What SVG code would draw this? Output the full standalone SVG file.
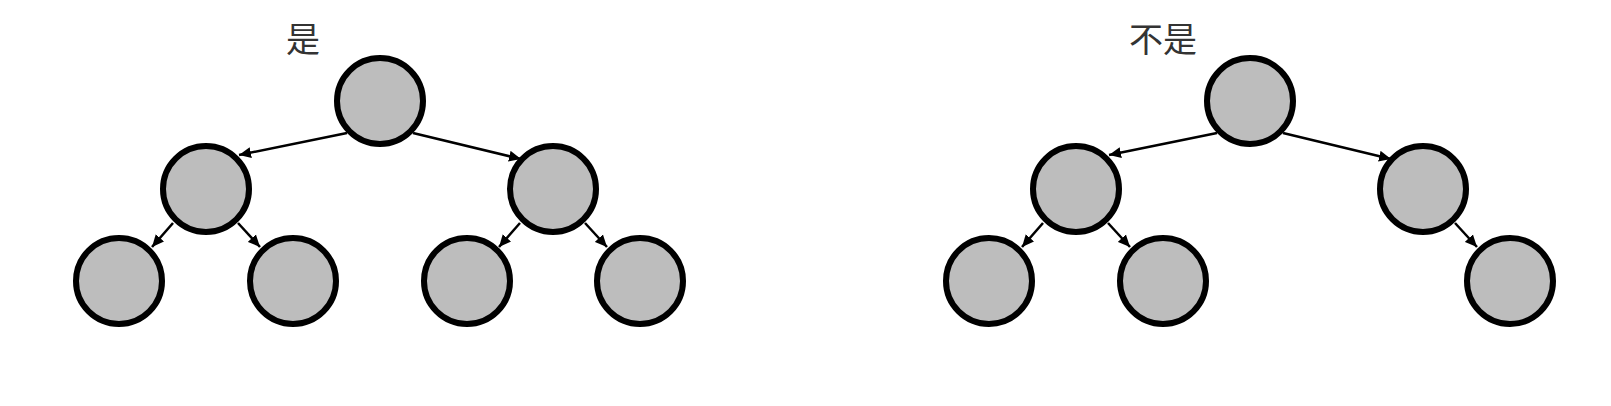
<svg xmlns="http://www.w3.org/2000/svg" width="1611" height="406" viewBox="0 0 1611 406">
<style>
.n{fill:#bdbdbd;stroke:#000;stroke-width:6}
.e{stroke:#000;stroke-width:2.5;fill:none;marker-end:url(#ah)}
.t{font-family:"Noto Sans CJK SC","Noto Sans",sans-serif;font-size:34px;fill:#333;text-anchor:middle}
</style>
<defs>
<marker id="ah" markerUnits="userSpaceOnUse" markerWidth="14" markerHeight="12" refX="12" refY="5.5" orient="auto" viewBox="0 0 14 11">
<path d="M0,0 L12,5.5 L0,11 Z" fill="#000"/>
</marker>
</defs>
<rect width="1611" height="406" fill="#fff"/>
<text class="t" x="303" y="52">是</text>
<text class="t" x="1163" y="52">不是</text>
<g id="connectors">
<line class="e" x1="347" y1="133" x2="239" y2="155"/>
<line class="e" x1="413" y1="133" x2="521" y2="159"/>
<line class="e" x1="173" y1="223" x2="152" y2="247"/>
<line class="e" x1="238" y1="223" x2="260" y2="247"/>
<line class="e" x1="520" y1="223" x2="499" y2="247"/>
<line class="e" x1="585" y1="223" x2="607" y2="247"/>
<line class="e" x1="1217" y1="133" x2="1109" y2="155"/>
<line class="e" x1="1283" y1="133" x2="1391" y2="159"/>
<line class="e" x1="1043" y1="223" x2="1022" y2="247"/>
<line class="e" x1="1108" y1="223" x2="1130" y2="247"/>
<line class="e" x1="1455" y1="223" x2="1477" y2="247"/>
</g>
<g id="a-root"><circle class="n" cx="380" cy="101" r="43"/></g>
<g id="a-l"><circle class="n" cx="206" cy="189" r="43"/></g>
<g id="a-r"><circle class="n" cx="553" cy="189" r="43"/></g>
<g id="a-ll"><circle class="n" cx="119" cy="281" r="43"/></g>
<g id="a-lr"><circle class="n" cx="293" cy="281" r="43"/></g>
<g id="a-rl"><circle class="n" cx="467" cy="281" r="43"/></g>
<g id="a-rr"><circle class="n" cx="640" cy="281" r="43"/></g>
<g id="b-root"><circle class="n" cx="1250" cy="101" r="43"/></g>
<g id="b-l"><circle class="n" cx="1076" cy="189" r="43"/></g>
<g id="b-r"><circle class="n" cx="1423" cy="189" r="43"/></g>
<g id="b-ll"><circle class="n" cx="989" cy="281" r="43"/></g>
<g id="b-lr"><circle class="n" cx="1163" cy="281" r="43"/></g>
<g id="b-rr"><circle class="n" cx="1510" cy="281" r="43"/></g>
</svg>
